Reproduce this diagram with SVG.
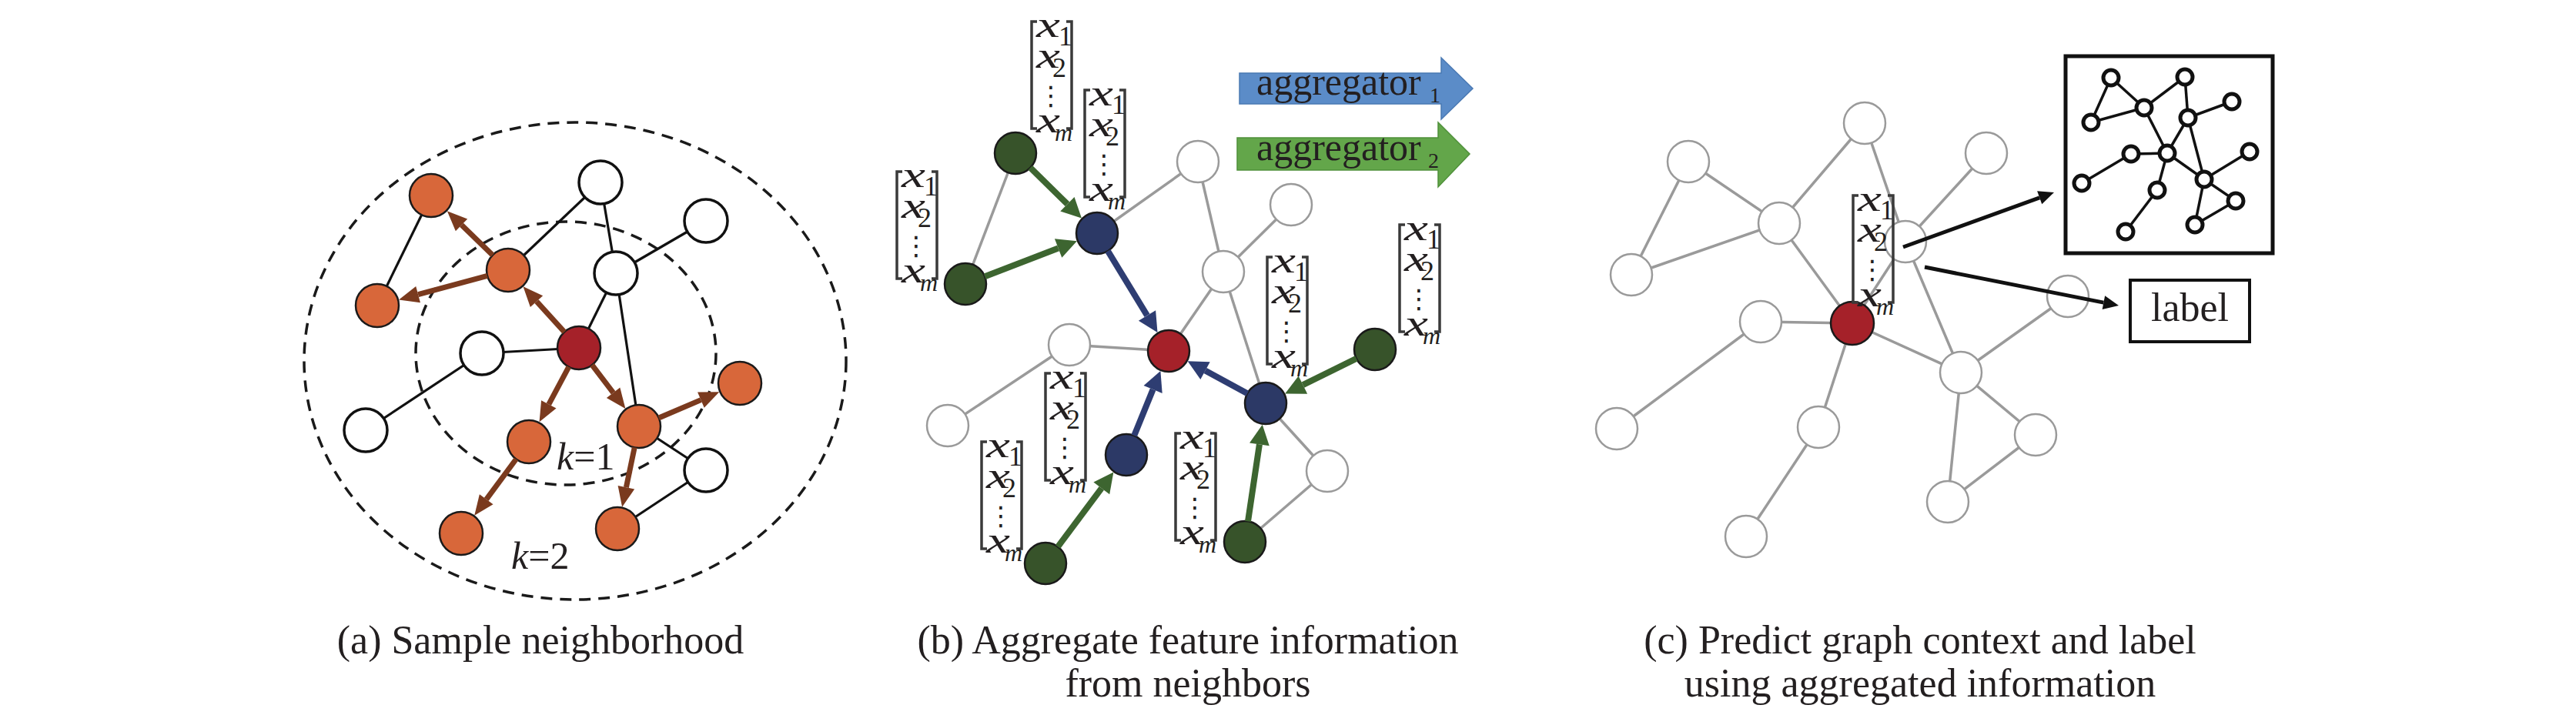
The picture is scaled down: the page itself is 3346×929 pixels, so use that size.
<svg xmlns="http://www.w3.org/2000/svg" width="3346" height="929" viewBox="0 0 3346 929">
<style>
.t{font-family:"Liberation Serif","Times New Roman",serif;fill:#231F20}
.cap{font-size:52px;text-anchor:middle}
.ea{stroke:#111;stroke-width:3.2;fill:none}
.nw{fill:#fff;stroke:#111;stroke-width:3.5}
.no{fill:#D8673A;stroke:#1a1a1a;stroke-width:2.5}
.nr{fill:#A52129;stroke:#1a1a1a;stroke-width:2.5}
.eg{stroke:#9a9a9a;stroke-width:3.5;fill:none}
.ng{fill:#fff;stroke:#9a9a9a;stroke-width:2.5}
.ndg{fill:#37532A;stroke:#1a1a1a;stroke-width:2.5}
.nbl{fill:#2C3966;stroke:#1a1a1a;stroke-width:2.5}
.abr{stroke:#7A3A1E;stroke-width:7;fill:none;marker-end:url(#hbr)}
.agr{stroke:#3D6530;stroke-width:8;fill:none;marker-end:url(#hgr)}
.abl{stroke:#2E3D72;stroke-width:8;fill:none;marker-end:url(#hbl)}
.abk{stroke:#111;stroke-width:5;fill:none;marker-end:url(#hbk)}
.dash{fill:none;stroke:#1a1a1a;stroke-width:3.5;stroke-dasharray:15 10}
.brk{fill:none;stroke:#3a3a3a;stroke-width:3.5}
.vx{font-size:48px;font-style:italic}
.vs{font-size:36px}
.vm{font-size:32px;font-style:italic}
.vd{font-family:"DejaVu Sans",sans-serif;font-size:34px;fill:#231F20;text-anchor:middle}
.se{stroke:#111;stroke-width:3.5;fill:none}
.sn{fill:#fff;stroke:#111;stroke-width:5}
</style>
<defs>
<marker id="hbr" markerUnits="userSpaceOnUse" markerWidth="26" markerHeight="22" refX="0" refY="11" orient="auto" overflow="visible"><path d="M0,0 L26,11 L0,22 z" fill="#7A3A1E"/></marker>
<marker id="hgr" markerUnits="userSpaceOnUse" markerWidth="26" markerHeight="26" refX="0" refY="13" orient="auto" overflow="visible"><path d="M0,0 L26,13 L0,26 z" fill="#3D6530"/></marker>
<marker id="hbl" markerUnits="userSpaceOnUse" markerWidth="26" markerHeight="26" refX="0" refY="13" orient="auto" overflow="visible"><path d="M0,0 L26,13 L0,26 z" fill="#2E3D72"/></marker>
<marker id="hbk" markerUnits="userSpaceOnUse" markerWidth="20" markerHeight="18" refX="0" refY="9" orient="auto" overflow="visible"><path d="M0,0 L20,9 L0,18 z" fill="#111"/></marker>
<g id="vec">
<path class="brk" d="M10,0 H3 V139 H10 M48,0 H55 V139 H48"/>
<text class="t vx" x="9" y="20" textLength="31" lengthAdjust="spacingAndGlyphs">x</text>
<text class="t vs" x="38" y="31">1</text>
<text class="t vx" x="9" y="60" textLength="31" lengthAdjust="spacingAndGlyphs">x</text>
<text class="t vs" x="30" y="72">2</text>
<text class="vd" x="28" y="108">⋮</text>
<text class="t vx" x="9" y="144" textLength="31" lengthAdjust="spacingAndGlyphs">x</text>
<text class="t vm" x="33" y="155">m</text>
</g>
</defs>
<rect width="3346" height="929" fill="#fff"/>

<!-- Panel (a) -->
<g id="a_regions">
<ellipse class="dash" cx="747" cy="469" rx="352" ry="310"/>
<ellipse class="dash" cx="735" cy="459" rx="195" ry="171"/>
</g>
<g id="a_edges">
<line class="ea" x1="560" y1="254" x2="490" y2="397"/>
<line class="ea" x1="660" y1="351" x2="780" y2="237"/>
<line class="ea" x1="780" y1="237" x2="800" y2="355"/>
<line class="ea" x1="917" y1="287" x2="800" y2="355"/>
<line class="ea" x1="800" y1="355" x2="752" y2="452"/>
<line class="ea" x1="800" y1="355" x2="830" y2="554"/>
<line class="ea" x1="752" y1="452" x2="626" y2="459"/>
<line class="ea" x1="626" y1="459" x2="475" y2="559"/>
<line class="ea" x1="830" y1="554" x2="917" y2="611"/>
<line class="ea" x1="917" y1="611" x2="802" y2="687"/>
</g>
<g id="a_nodes">
<circle id="a_w1" class="nw" cx="780" cy="237" r="28"/>
<circle id="a_w2" class="nw" cx="917" cy="287" r="28"/>
<circle id="a_w3" class="nw" cx="800" cy="355" r="28"/>
<circle id="a_w4" class="nw" cx="626" cy="459" r="28"/>
<circle id="a_w5" class="nw" cx="475" cy="559" r="28"/>
<circle id="a_w6" class="nw" cx="917" cy="611" r="28"/>
<circle id="a_o1" class="no" cx="660" cy="351" r="28"/>
<circle id="a_o2" class="no" cx="560" cy="254" r="28"/>
<circle id="a_o3" class="no" cx="490" cy="397" r="28"/>
<circle id="a_o4" class="no" cx="687" cy="574" r="28"/>
<circle id="a_o5" class="no" cx="830" cy="554" r="28"/>
<circle id="a_o6" class="no" cx="961" cy="498" r="28"/>
<circle id="a_o7" class="no" cx="802" cy="687" r="28"/>
<circle id="a_o8" class="no" cx="599" cy="693" r="28"/>
<circle id="a_red" class="nr" cx="752" cy="452" r="28"/>
</g>
<g id="a_arrows">
<line class="abr" x1="733.1" y1="431.3" x2="697.0" y2="391.6"/>
<line class="abr" x1="639.9" y1="331.5" x2="599.5" y2="292.3"/>
<line class="abr" x1="633.0" y1="358.3" x2="543.1" y2="382.6"/>
<line class="abr" x1="738.8" y1="476.7" x2="712.8" y2="525.4"/>
<line class="abr" x1="769.0" y1="474.2" x2="796.6" y2="510.3"/>
<line class="abr" x1="855.7" y1="543.0" x2="910.4" y2="519.6"/>
<line class="abr" x1="824.2" y1="581.4" x2="813.4" y2="633.2"/>
<line class="abr" x1="670.4" y1="596.5" x2="631.7" y2="648.8"/>
</g>
<g id="a_labels">
<text class="t" x="723" y="610" font-size="50"><tspan font-style="italic">k</tspan>=1</text>
<text class="t" x="664" y="739" font-size="50"><tspan font-style="italic">k</tspan>=2</text>
</g>

<!-- Panel (b) -->
<g id="b_edges">
<line class="eg" x1="1319" y1="199" x2="1254" y2="369"/>
<line class="eg" x1="1425" y1="303" x2="1556" y2="210"/>
<line class="eg" x1="1556" y1="210" x2="1589" y2="353"/>
<line class="eg" x1="1589" y1="353" x2="1677" y2="266"/>
<line class="eg" x1="1589" y1="353" x2="1518" y2="456"/>
<line class="eg" x1="1589" y1="353" x2="1644" y2="524"/>
<line class="eg" x1="1518" y1="456" x2="1389" y2="448"/>
<line class="eg" x1="1389" y1="448" x2="1231" y2="553"/>
<line class="eg" x1="1644" y1="524" x2="1724" y2="612"/>
<line class="eg" x1="1724" y1="612" x2="1617" y2="704"/>
</g>
<g id="b_nodes">
<circle id="b_w1" class="ng" cx="1556" cy="210" r="27"/>
<circle id="b_w2" class="ng" cx="1677" cy="266" r="27"/>
<circle id="b_w3" class="ng" cx="1589" cy="353" r="27"/>
<circle id="b_w4" class="ng" cx="1389" cy="448" r="27"/>
<circle id="b_w5" class="ng" cx="1231" cy="553" r="27"/>
<circle id="b_w6" class="ng" cx="1724" cy="612" r="27"/>
<circle id="b_g1" class="ndg" cx="1319" cy="199" r="27"/>
<circle id="b_g2" class="ndg" cx="1254" cy="369" r="27"/>
<circle id="b_g3" class="ndg" cx="1358" cy="732" r="27"/>
<circle id="b_g4" class="ndg" cx="1617" cy="704" r="27"/>
<circle id="b_g5" class="ndg" cx="1786" cy="454" r="27"/>
<circle id="b_b1" class="nbl" cx="1425" cy="303" r="27"/>
<circle id="b_b2" class="nbl" cx="1463" cy="591" r="27"/>
<circle id="b_b3" class="nbl" cx="1644" cy="524" r="27"/>
<circle id="b_red" class="nr" cx="1518" cy="456" r="27"/>
</g>
<g id="b_arrows">
<line class="agr" x1="1338.3" y1="217.9" x2="1386.4" y2="265.2"/>
<line class="agr" x1="1279.2" y1="359.3" x2="1374.6" y2="322.5"/>
<line class="abl" x1="1439.0" y1="326.1" x2="1490.0" y2="409.9"/>
<line class="abl" x1="1473.2" y1="566.0" x2="1497.6" y2="506.0"/>
<line class="abl" x1="1620.2" y1="511.2" x2="1565.5" y2="481.6"/>
<line class="agr" x1="1374.1" y1="710.3" x2="1430.8" y2="634.4"/>
<line class="agr" x1="1761.8" y1="465.9" x2="1692.4" y2="500.1"/>
<line class="agr" x1="1621.0" y1="677.3" x2="1635.9" y2="577.4"/>
</g>
<g id="b_vectors">
<use href="#vec" x="1337" y="28"/>
<use href="#vec" x="1406" y="117"/>
<use href="#vec" x="1162" y="223"/>
<use href="#vec" x="1272" y="574"/>
<use href="#vec" x="1355" y="485"/>
<use href="#vec" x="1524" y="563"/>
<use href="#vec" x="1815" y="292"/>
<use href="#vec" x="1643" y="334"/>
</g>
<g id="b_aggregator1">
<polygon points="1610,95 1872,95 1872,75 1913,115 1872,155 1872,135 1610,135" fill="#5B8CC8" stroke="#4A79B3" stroke-width="1.5"/>
<text class="t" x="1632" y="123" font-size="50">aggregator</text>
<text class="t" x="1857" y="133" font-size="28">1</text>
</g>
<g id="b_aggregator2">
<polygon points="1607,179 1868,179 1868,159 1909,200 1868,243 1868,221 1607,221" fill="#63A64A" stroke="#4F903A" stroke-width="1.5"/>
<text class="t" x="1632" y="208" font-size="50">aggregator</text>
<text class="t" x="1855" y="218" font-size="28">2</text>
</g>

<!-- Panel (c) -->
<g id="c_edges">
<line class="eg" x1="2193" y1="210" x2="2119" y2="357"/>
<line class="eg" x1="2193" y1="210" x2="2311" y2="290"/>
<line class="eg" x1="2119" y1="357" x2="2311" y2="290"/>
<line class="eg" x1="2311" y1="290" x2="2422" y2="160"/>
<line class="eg" x1="2311" y1="290" x2="2406" y2="420"/>
<line class="eg" x1="2422" y1="160" x2="2475" y2="314"/>
<line class="eg" x1="2475" y1="314" x2="2580" y2="199"/>
<line class="eg" x1="2475" y1="314" x2="2406" y2="420"/>
<line class="eg" x1="2475" y1="314" x2="2547" y2="484"/>
<line class="eg" x1="2406" y1="420" x2="2287" y2="418"/>
<line class="eg" x1="2287" y1="418" x2="2100" y2="557"/>
<line class="eg" x1="2406" y1="420" x2="2362" y2="555"/>
<line class="eg" x1="2362" y1="555" x2="2268" y2="697"/>
<line class="eg" x1="2406" y1="420" x2="2547" y2="484"/>
<line class="eg" x1="2547" y1="484" x2="2644" y2="565"/>
<line class="eg" x1="2547" y1="484" x2="2530" y2="652"/>
<line class="eg" x1="2530" y1="652" x2="2644" y2="565"/>
<line class="eg" x1="2547" y1="484" x2="2686" y2="385"/>
</g>
<g id="c_nodes">
<circle id="c_n1" class="ng" cx="2422" cy="160" r="27"/>
<circle id="c_n2" class="ng" cx="2193" cy="210" r="27"/>
<circle id="c_n3" class="ng" cx="2580" cy="199" r="27"/>
<circle id="c_n4" class="ng" cx="2311" cy="290" r="27"/>
<circle id="c_n5" class="ng" cx="2475" cy="314" r="27"/>
<circle id="c_n6" class="ng" cx="2119" cy="357" r="27"/>
<circle id="c_n7" class="ng" cx="2287" cy="418" r="27"/>
<circle id="c_n8" class="ng" cx="2547" cy="484" r="27"/>
<circle id="c_n9" class="ng" cx="2100" cy="557" r="27"/>
<circle id="c_n10" class="ng" cx="2362" cy="555" r="27"/>
<circle id="c_n11" class="ng" cx="2644" cy="565" r="27"/>
<circle id="c_n12" class="ng" cx="2530" cy="652" r="27"/>
<circle id="c_n13" class="ng" cx="2268" cy="697" r="27"/>
<circle id="c_n14" class="ng" cx="2686" cy="385" r="27"/>
<circle id="c_red" class="nr" cx="2406" cy="420" r="28"/>
</g>
<g id="c_vector">
<use href="#vec" x="2404" y="254"/>
</g>
<g id="c_arrows">
<line class="abk" x1="2472" y1="321" x2="2649.2" y2="256.8"/>
<line class="abk" x1="2500" y1="347" x2="2732.4" y2="393.1"/>
</g>
<g id="c_context">
<rect x="2683" y="73" width="269" height="256" fill="#fff" stroke="#111" stroke-width="5"/>
<g id="c_minigraph">
<line class="se" x1="2742" y1="101" x2="2716" y2="159"/>
<line class="se" x1="2742" y1="101" x2="2785" y2="140"/>
<line class="se" x1="2716" y1="159" x2="2785" y2="140"/>
<line class="se" x1="2785" y1="140" x2="2838" y2="100"/>
<line class="se" x1="2838" y1="100" x2="2842" y2="153"/>
<line class="se" x1="2842" y1="153" x2="2899" y2="132"/>
<line class="se" x1="2785" y1="140" x2="2815" y2="199"/>
<line class="se" x1="2842" y1="153" x2="2815" y2="199"/>
<line class="se" x1="2842" y1="153" x2="2863" y2="233"/>
<line class="se" x1="2768" y1="200" x2="2815" y2="199"/>
<line class="se" x1="2768" y1="200" x2="2704" y2="238"/>
<line class="se" x1="2815" y1="199" x2="2802" y2="247"/>
<line class="se" x1="2815" y1="199" x2="2863" y2="233"/>
<line class="se" x1="2802" y1="247" x2="2761" y2="301"/>
<line class="se" x1="2863" y1="233" x2="2922" y2="197"/>
<line class="se" x1="2863" y1="233" x2="2904" y2="261"/>
<line class="se" x1="2863" y1="233" x2="2851" y2="292"/>
<line class="se" x1="2851" y1="292" x2="2904" y2="261"/>
<circle class="sn" cx="2742" cy="101" r="10"/>
<circle class="sn" cx="2838" cy="100" r="10"/>
<circle class="sn" cx="2899" cy="132" r="10"/>
<circle class="sn" cx="2785" cy="140" r="10"/>
<circle class="sn" cx="2716" cy="159" r="10"/>
<circle class="sn" cx="2842" cy="153" r="10"/>
<circle class="sn" cx="2768" cy="200" r="10"/>
<circle class="sn" cx="2815" cy="199" r="10"/>
<circle class="sn" cx="2922" cy="197" r="10"/>
<circle class="sn" cx="2704" cy="238" r="10"/>
<circle class="sn" cx="2863" cy="233" r="10"/>
<circle class="sn" cx="2802" cy="247" r="10"/>
<circle class="sn" cx="2904" cy="261" r="10"/>
<circle class="sn" cx="2851" cy="292" r="10"/>
<circle class="sn" cx="2761" cy="301" r="10"/>
</g>
</g>
<g id="c_label">
<rect x="2767" y="364" width="155" height="80" fill="#fff" stroke="#111" stroke-width="4"/>
<text class="t" x="2844.5" y="417" font-size="52" text-anchor="middle">label</text>
</g>

<!-- Captions -->
<g id="captions">
<text class="t cap" x="702" y="849">(a) Sample neighborhood</text>
<text class="t cap" x="1543" y="849">(b) Aggregate feature information</text>
<text class="t cap" x="1543" y="905">from neighbors</text>
<text class="t cap" x="2494" y="849">(c) Predict graph context and label</text>
<text class="t cap" x="2494" y="905">using aggregated information</text>
</g>
</svg>
